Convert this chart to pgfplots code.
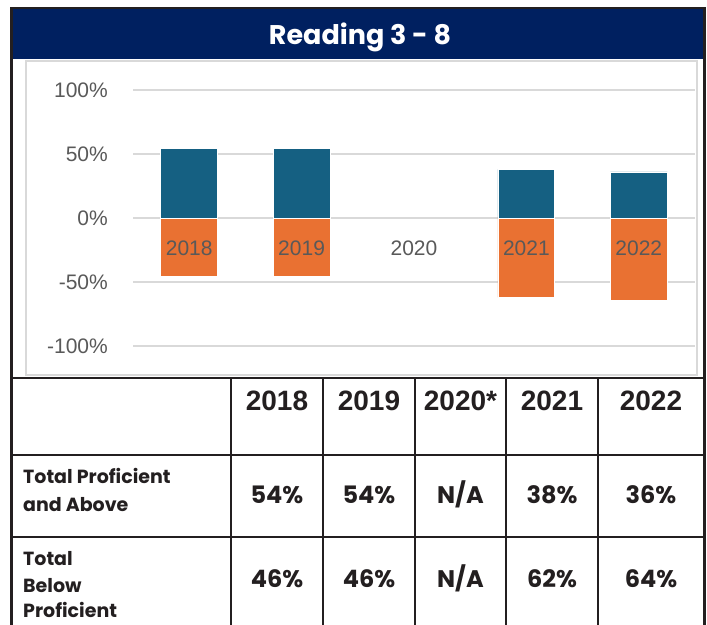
\documentclass[border=0pt]{standalone}
\usepackage{fontspec}
\setmainfont{Liberation Sans}
\newfontfamily\pop{Poppins}
\usepackage{pgfplots}
\pgfplotsset{compat=1.18}
\definecolor{navy}{HTML}{002060}
\definecolor{barblue}{HTML}{156082}
\definecolor{barorange}{HTML}{E97132}
\definecolor{gridgray}{HTML}{D9D9D9}
\definecolor{txtgray}{HTML}{595959}
\definecolor{ink}{HTML}{231F20}
\pgfplotsset{base/.style={
  at={(133bp,-346bp)}, anchor=south west, scale only axis,
  width=562bp, height=256bp,
  xmin=-0.5, xmax=4.5, ymin=-100, ymax=100,
  axis line style={draw=none}, major tick length=0pt, tick style={draw=none},
  clip=false}}
\begin{document}
\begin{tikzpicture}
\useasboundingbox (0,0) rectangle (707bp,-625bp);
\fill[white] (0,0) rectangle (707bp,-625bp);
\begin{scope}[x=1bp,y=-1bp]
\fill[navy] (10,8) rectangle (706,59);
\draw[gridgray, line width=1.5bp] (26,61) rectangle (697,375);
\node[text=white, anchor=base, inner sep=0pt, font=\pop\bfseries\fontsize{27bp}{30bp}\selectfont] at (360,44) {Reading 3 - 8};
\end{scope}
\begin{axis}[base,
  ymajorgrids, grid style={gridgray, line width=1.3bp},
  ytick={-100,-50,0,50,100},
  yticklabels={-100\%,-50\%,0\%,50\%,100\%},
  yticklabel style={font=\fontsize{21bp}{24bp}\selectfont, text=txtgray, anchor=east, inner sep=0pt, xshift=-25bp},
  xtick=\empty,
  bar width=0.507,
]
\addplot[ybar, bar shift=0pt, fill=barblue, draw=white, line width=0.8bp] coordinates {(0,54) (1,54) (3,38) (4,36)};
\addplot[ybar, bar shift=0pt, fill=barorange, draw=white, line width=0.8bp] coordinates {(0,-46) (1,-46) (3,-62) (4,-64)};
\end{axis}
\begin{axis}[base,
  ytick=\empty,
  xtick={0,1,2,3,4},
  xticklabels={2018,2019,2020,2021,2022},
  xticklabel style={font=\fontsize{21bp}{24bp}\selectfont, text=txtgray, anchor=center, inner sep=0pt, yshift=98bp},
]
\addplot[draw=none, forget plot] coordinates {(0,0) (4,0)};
\end{axis}
\begin{scope}[x=1bp,y=-1bp]
\begin{scope}[ink, line width=2.5bp]
\draw (10,378) -- (706,378);
\draw (10,455) -- (706,455);
\draw (10,537) -- (706,537);
\foreach \xx in {231,323,415,506,598} {\draw (\xx,378) -- (\xx,627);}
\draw[line width=3.5bp] (11.5,7) -- (11.5,627);
\draw[line width=3.5bp] (704.5,7) -- (704.5,627);
\draw[line width=2bp] (10,8) -- (706,8);
\end{scope}
\tikzset{yr/.style={anchor=base, inner sep=0pt, text=ink, font=\bfseries\fontsize{28bp}{30bp}\selectfont},
         val/.style={anchor=base, inner sep=0pt, text=ink, font=\pop\bfseries\fontsize{24bp}{28bp}\selectfont},
         lab/.style={anchor=base west, inner sep=0pt, text=ink, font=\pop\bfseries\fontsize{19bp}{22bp}\selectfont}}
\node[yr] at (277,410) {2018};
\node[yr] at (369,410) {2019};
\node[yr] at (460.5,410) {2020*};
\node[yr] at (552,410) {2021};
\node[yr] at (651,410) {2022};
\node[lab] at (23,483) {Total Proficient};
\node[lab] at (23,511) {and Above};
\node[lab] at (23,565) {Total};
\node[lab] at (23,592) {Below};
\node[lab] at (23,617) {Proficient};
\node[val] at (277,503) {54\%};
\node[val] at (369,503) {54\%};
\node[val] at (460.5,503) {N/A};
\node[val] at (552,503) {38\%};
\node[val] at (651,503) {36\%};
\node[val] at (277,587) {46\%};
\node[val] at (369,587) {46\%};
\node[val] at (460.5,587) {N/A};
\node[val] at (552,587) {62\%};
\node[val] at (651,587) {64\%};
\end{scope}
\end{tikzpicture}
\end{document}
